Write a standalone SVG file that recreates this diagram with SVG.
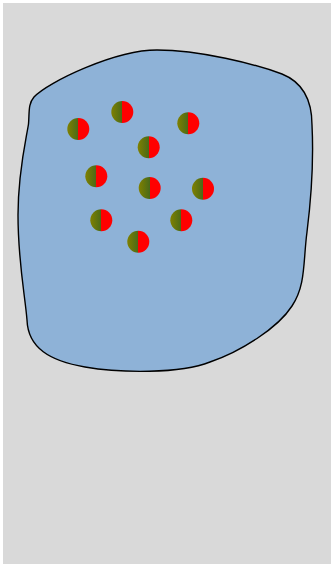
<svg xmlns="http://www.w3.org/2000/svg" width="331" height="564" viewBox="0 0 331 564">
<defs>
<linearGradient id="g" x1="0" y1="0" x2="1" y2="0">
<stop offset="0" stop-color="#808000"/>
<stop offset="0.5" stop-color="#4a6a18"/>
<stop offset="0.5" stop-color="#ff0000"/>
<stop offset="1" stop-color="#ff0000"/>
</linearGradient>
</defs>
<style>
.dot{fill:url(#g);}
</style>
<rect x="3" y="3" width="328" height="561" fill="#d9d9d9"/>
<g id="blob">
<path d="M157,50 C200,50 255,64 282,74 C302,82 312,98 312,125 C314,165 311,200 307,232 C303,262 306,285 292,306 C278,328 240,352 210,362 C180,374 120,373 85,367 C50,361 28,348 27,320 C25,295 18,262 18,215 C18,172 26,140 28.5,124 C29.5,112 28,104 34,97 C48,82 115,50 157,50 Z" fill="#8eb2d7" stroke="#000" stroke-width="1.4"/>
</g>
<g id="d1"><circle class="dot" cx="78.3" cy="129" r="11"/></g>
<g id="d2"><circle class="dot" cx="122.3" cy="112" r="11"/></g>
<g id="d3"><circle class="dot" cx="188.3" cy="123.3" r="11"/></g>
<g id="d4"><circle class="dot" cx="148.7" cy="147.3" r="11"/></g>
<g id="d5"><circle class="dot" cx="96.3" cy="176.3" r="11"/></g>
<g id="d6"><circle class="dot" cx="149.7" cy="188" r="11"/></g>
<g id="d7"><circle class="dot" cx="203" cy="188.7" r="11"/></g>
<g id="d8"><circle class="dot" cx="101.3" cy="220.3" r="11"/></g>
<g id="d9"><circle class="dot" cx="181.3" cy="220.3" r="11"/></g>
<g id="d10"><circle class="dot" cx="138.3" cy="241.7" r="11"/></g>
</svg>
